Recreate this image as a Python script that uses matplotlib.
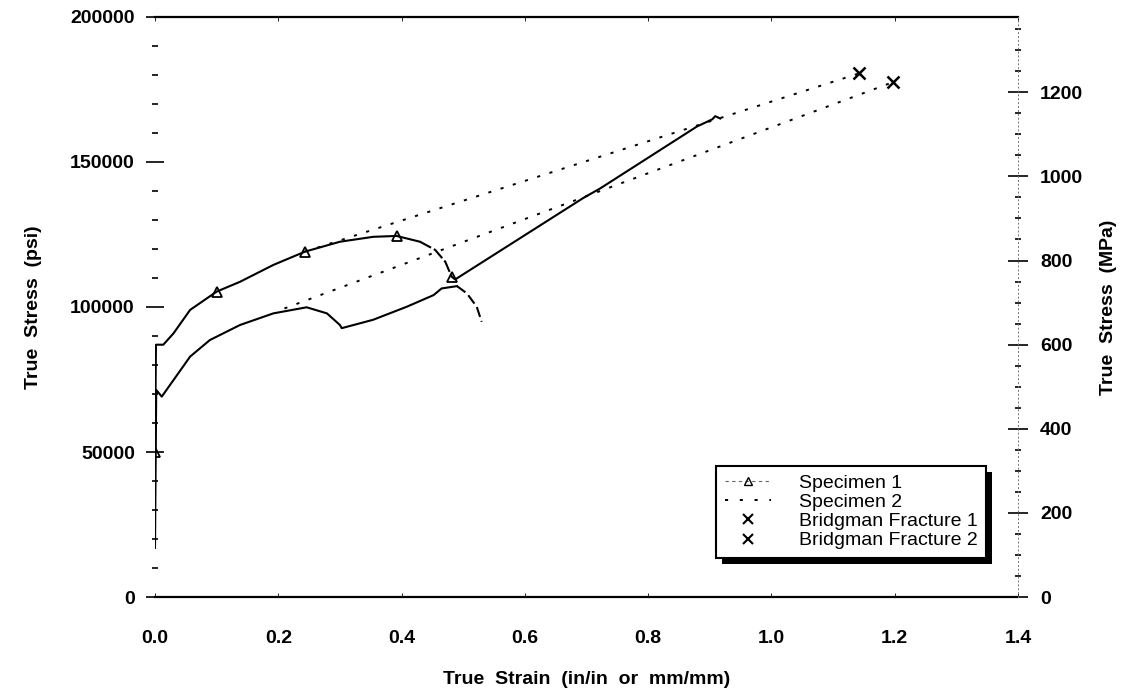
import matplotlib
matplotlib.use("Agg")
import matplotlib.pyplot as plt
from matplotlib.lines import Line2D
from matplotlib.patches import Rectangle
from matplotlib.transforms import IdentityTransform
from matplotlib.ticker import MultipleLocator

plt.rcParams['font.family'] = ['Liberation Sans', 'DejaVu Sans']

# values (strain in/in, stress psi)
spec1_strain = [0.0, 0.0, 0.0016, 0.0135, 0.030, 0.057, 0.100, 0.138, 0.192, 0.2435, 0.300, 0.354, 0.392, 0.430]
spec1_stress = [17000, 50000, 87000, 87000, 90900, 99000, 105300, 108700, 114500, 119100, 122500, 124200, 124500, 122500]
spec1_drop_strain = [0.430, 0.4545, 0.471, 0.479, 0.4816]
spec1_drop_stress = [122500, 119700, 115600, 111600, 110400]
spec1_upper_strain = [0.4816, 0.487, 0.695, 0.7224, 0.879, 0.904, 0.909, 0.917]
spec1_upper_stress = [110400, 109500, 137600, 140900, 162200, 164700, 165800, 165000]
spec1_mark_strain = [0.0, 0.100, 0.2435, 0.392, 0.4816]
spec1_mark_stress = [50000, 105300, 119100, 124500, 110400]

spec2_strain = [0.0, 0.002, 0.011, 0.030, 0.057, 0.089, 0.138, 0.192, 0.246, 0.279, 0.300, 0.303,
                0.354, 0.4086, 0.452, 0.465, 0.490]
spec2_stress = [17000, 71400, 69100, 74800, 82900, 88600, 93800, 97800, 99900, 97800, 93800, 92700,
                95600, 100100, 104100, 106400, 107200]
spec2_drop_strain = [0.490, 0.506, 0.522, 0.530]
spec2_drop_stress = [107200, 104700, 100100, 94900]

# dotted extrapolations to the Bridgman fracture points
ext1_strain = [0.2435, 1.143]
ext1_stress = [119100, 180600]
ext2_strain = [0.21, 1.197]
ext2_stress = [99500, 177500]
bridg1_strain = [1.143]
bridg1_stress = [180600]
bridg2_strain = [1.197]
bridg2_stress = [177500]

x_ticks = [0.0, 0.2, 0.4, 0.6, 0.8, 1.0, 1.2, 1.4]
x_ticklabels = ['0.0', '0.2', '0.4', '0.6', '0.8', '1.0', '1.2', '1.4']
psi_ticks = [0, 50000, 100000, 150000, 200000]
psi_ticklabels = ['0', '50000', '100000', '150000', '200000']
mpa_ticks = [0, 200, 400, 600, 800, 1000, 1200]
legend_labels = ['Specimen 1', 'Specimen 2', 'Bridgman Fracture 1', 'Bridgman Fracture 2']
PSI_PER_MPA = 145.038

fig = plt.figure(figsize=(11.28, 6.93), dpi=100)
ax = fig.add_axes([0.1374, 0.1385, 0.765, 0.837])

lw = 1.5
ax.plot(spec1_strain, spec1_stress, color='k', lw=lw)
ax.plot(spec1_drop_strain, spec1_drop_stress, color='k', lw=lw, linestyle=(0, (6, 1.5)))
ax.plot(spec1_upper_strain, spec1_upper_stress, color='k', lw=lw)
ax.plot(spec1_mark_strain, spec1_mark_stress, linestyle='none', marker='^', ms=7,
        mfc='none', mec='k', mew=1.3)
ax.plot(spec2_strain, spec2_stress, color='k', lw=lw)
ax.plot(spec2_drop_strain, spec2_drop_stress, color='k', lw=lw, linestyle=(0, (5, 2)))

dots = (0, (1.6, 5))
ax.plot(ext1_strain, ext1_stress, color='k', lw=1.4, linestyle=dots)
ax.plot(ext2_strain, ext2_stress, color='k', lw=1.4, linestyle=dots)
ax.plot(bridg1_strain, bridg1_stress, linestyle='none', marker='x', ms=8, mew=1.8, color='k')
ax.plot(bridg2_strain, bridg2_stress, linestyle='none', marker='x', ms=8, mew=1.8, color='k')

ax.set_xlim(0, 1.4)
ax.set_ylim(0, 200000)
ax.set_xticks(x_ticks, x_ticklabels)
ax.set_yticks(psi_ticks, psi_ticklabels)
ax.yaxis.set_minor_locator(MultipleLocator(10000))

ax.spines['left'].set_visible(False)
ax.spines['right'].set_visible(False)
ax.spines['top'].set_linewidth(1.6)
ax.spines['bottom'].set_linewidth(1.6)

ax.tick_params(axis='x', direction='in', length=3, width=0.6, top=True, pad=24,
               labelsize=14)
ax.tick_params(axis='y', which='major', direction='inout', length=13, width=1.2,
               pad=8, labelsize=14)
ax.tick_params(axis='y', which='minor', direction='inout', length=4, width=1.2)
for lab in ax.get_xticklabels() + ax.get_yticklabels():
    lab.set_fontweight('bold')

ax.set_xlabel('True  Strain  (in/in  or  mm/mm)', fontsize=14, fontweight='bold', labelpad=17)
ax.set_ylabel('True  Stress  (psi)', fontsize=14, fontweight='bold', labelpad=20)

# right hand axis in MPa
ax2 = ax.twinx()
ax2.set_ylim(0, 200000 / PSI_PER_MPA)
ax2.set_yticks(mpa_ticks, [str(t) for t in mpa_ticks])
ax2.yaxis.set_minor_locator(MultipleLocator(50))
for s in ['left', 'top', 'bottom']:
    ax2.spines[s].set_visible(False)
ax2.spines['right'].set_linestyle((0, (1, 3)))
ax2.spines['right'].set_linewidth(0.7)
ax2.spines['right'].set_color('0.45')
ax2.tick_params(axis='y', which='major', direction='inout', length=14, width=1.2,
                pad=9, labelsize=14)
ax2.tick_params(axis='y', which='minor', direction='inout', length=4, width=1.2)
for lab in ax2.get_yticklabels():
    lab.set_fontweight('bold')
ax2.set_ylabel('True  Stress  (MPa)', fontsize=14, fontweight='bold', labelpad=12)

handles = [
    Line2D([], [], color='0.4', lw=0.8, linestyle=(0, (3, 3)), marker='^', ms=6,
           mfc='none', mec='k', mew=1.0),
    Line2D([], [], color='k', lw=1.4, linestyle=(0, (1.6, 6))),
    Line2D([], [], linestyle='none', marker='x', ms=7, mew=1.5, color='k'),
    Line2D([], [], linestyle='none', marker='x', ms=7, mew=1.5, color='k'),
]
leg = ax2.legend(handles, legend_labels, loc='lower left', bbox_to_anchor=(0.650, 0.067),
                 fontsize=14, frameon=True, fancybox=False, framealpha=1,
                 labelspacing=0.08, handlelength=2.4, handletextpad=1.4,
                 borderpad=0.45, borderaxespad=0)
leg.get_frame().set_edgecolor('k')
leg.get_frame().set_facecolor('white')
leg.get_frame().set_linewidth(1.5)
leg.set_zorder(6)

# heavy drop shadow behind the legend box
fig.canvas.draw()
bb = leg.get_window_extent()
shadow = Rectangle((bb.x0 + 6, bb.y0 - 6), bb.width, bb.height, transform=IdentityTransform(),
                   facecolor='k', edgecolor='none', zorder=5, clip_on=False)
ax2.add_artist(shadow)

fig.savefig('out.png', dpi=100)
